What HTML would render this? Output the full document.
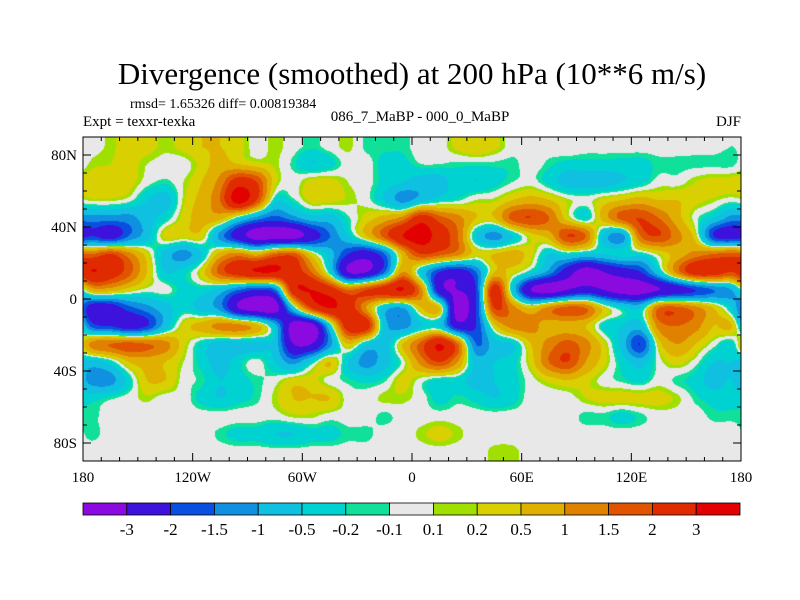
<!DOCTYPE html>
<html><head><meta charset="utf-8"><style>
body{margin:0;background:#fff;width:800px;height:600px;overflow:hidden;position:relative;font-family:"Liberation Serif",serif}
#map{position:absolute;left:83px;top:137px}
svg{position:absolute;left:0;top:0}
</style></head><body>
<canvas id="map" width="658" height="324"></canvas>
<svg id="ov" width="800" height="600">
<text x="412" y="84" font-size="31" text-anchor="middle" font-family="Liberation Serif">Divergence (smoothed) at 200 hPa (10**6 m/s)</text>
<text x="130" y="108" font-size="14" font-family="Liberation Serif">rmsd= 1.65326 diff= 0.00819384</text>
<text x="83" y="126" font-size="15" font-family="Liberation Serif">Expt = texxr-texka</text>
<text x="420" y="121" font-size="15" text-anchor="middle" font-family="Liberation Serif">086_7_MaBP - 000_0_MaBP</text>
<text x="741" y="126" font-size="15" text-anchor="end" font-family="Liberation Serif">DJF</text>
<g id="axes"></g>
<g id="cbar"></g>
</svg>
<script>
const levels=[-3,-2,-1.5,-1,-0.5,-0.2,-0.1,0.1,0.2,0.5,1,1.5,2,3];
const levelLabels=["-3","-2","-1.5","-1","-0.5","-0.2","-0.1","0.1","0.2","0.5","1","1.5","2","3"];
const colors=["#8a0ae0","#3c12dc","#0a50e0","#1090e0","#10c0e0","#00d2d2","#10e09a","#e8e8e8","#a0e000","#d8d000","#e0b000","#e08200","#e05400","#e02a00","#e20000"];
const lons=[-175,-165,-155,-145,-135,-125,-115,-105,-95,-85,-75,-65,-55,-45,-35,-25,-15,-5,5,15,25,35,45,55,65,75,85,95,105,115,125,135,145,155,165,175];
const lats=[85,75,65,55,45,35,25,15,5,-5,-15,-25,-35,-45,-55,-65,-75,-85];
const grid=[
[0,0.15,0.3,0.3,0.15,0.3,0.5,0.5,0.3,0,0.15,0,-0.15,0,0.15,-0.15,-0.15,-0.15, 0,0,0.3,0.5,0.3,0,0,0,0.1,0,0,0,0,0,0,0,0,-0.1],
[0.15,0.2,0.3,0.1,0,0,0.3,0.7,0.5,0.3,0.15,-0.15,-0.5,-0.3,0,0,-0.3,-0.3, -0.1,-0.1,-0.15,-0.15,-0.15,-0.15,0,-0.15,-0.3,-0.3,-0.3,-0.3,-0.3,-0.15,-0.15,-0.15,-0.15,-0.15],
[0.3,0.3,0.3,0,-0.15,0.1,0.5,1.2,2.5,2,0.3,0,0.3,0.3,0.1,0,-0.3,-0.5, -0.7,-0.7,-0.3,-0.5,-0.3,-0.1,0,-0.3,-0.7,-0.7,-0.7,-0.5,-0.3,0,0,0.2,0.3,0.3],
[0.15,0.15,0,-0.5,-0.7,0.15,0.7,1.5,3.5,2,-0.3,-0.15,0.3,0.3,0.15,0,-0.5,-1.2, -0.7,-0.3,-0.15,0.1,0.15,0.5,0.7,0.5,0.15,0,0.3,0.5,0.7,0.5,0.5,0.3,0.15,0],
[-1.2,-1.2,-1.2,-0.7,-0.3,0.3,0.7,0.7,-0.3,-1.2,-1.7,-1.2,-0.7,-0.7,-0.15,0.3,0.7,1.2, 2.5,1.7,1.2,0.5,0.5,1.7,2,1.5,0.3,-0.3,0.7,1.7,2,1.5,0.7,0,-0.5,-1.2],
[-2,-2.5,-1.5,-0.7,0.3,0.3,0.3,-1.2,-2.5,-3.5,-3.5,-3.5,-2.5,-1.5,-0.5,0.5,1.7,3, 3.5,2.5,1.5,-0.5,-1.2,-0.5,0.3,0.7,2,1.5,-0.7,-1.2,1.5,2,1.2,0.3,-2,-2.5],
[1.5,2,1.2,0.3,-0.7,-1.2,-0.5,0.7,1.2,0.7,1.5,1.7,0.3,-0.7,-2,-2.5,-1.5,0.7, 2,1.7,1.2,0.3,0.5,0.7,0.3,-0.5,-0.3,-0.5,-0.5,-0.3,-0.3,0.2,0.7,1.2,1.5,1.7],
[3,2.5,1.7,0.5,-0.5,-0.3,0.3,1.7,2.5,3,3,2.5,1.5,-0.3,-3,-3,-1.5,1, -0.5,-2,-2.5,-1.5,0.5,0.3,-0.3,-1.2,-2.5,-3.5,-3,-2.5,-2,-0.5,1.2,2.5,2.5,2],
[0.7,0.7,0.3,0,0,-0.3,-0.3,-0.7,-1.5,-2,-1.5,2.5,3,2.5,1.5,2,2.5,3, 1.2,-2.5,-3,-2,2.5,-0.5,-3,-3.5,-3,-2.5,-3,-3.5,-3.5,-3,-2.5,-2,-1.5,-1],
[-2.5,-2.5,-1.7,-1.2,-0.7,-0.3,-0.7,-1.2,-3,-3.5,-3.5,-0.5,2,3,2.5,1,-0.7,-1, 0.5,0.5,-3.5,-2,2,1.2,0.5,1.2,1.7,1.5,0.3,-0.3,-0.5,1.5,1.7,1.2,0.5,-0.5],
[-1.7,-2,-2.5,-2,-0.7,0.3,0.7,1.2,1.2,0.7,-0.7,-3.5,-3.5,-0.5,2.5,2.5,-0.7,-1.2, -0.5,-0.5,-2.5,-2,0.3,1.2,1.2,0.7,0.7,0.5,-0.3,-0.5,-0.7,1.2,1.5,1.2,0.5,0.5],
[1.2,1.5,1.7,1.5,1.2,0.3,-0.3,-0.7,-0.7,-0.7,-0.7,-3,-3,-1.2,0.5,-0.5,-0.7,0.5, 1.7,3,1.5,-1.5,-0.7,-0.5,0.5,1.2,1.7,1.2,0.3,-0.7,-2,0.3,1,0.5,0,-0.3],
[-0.7,-0.3,0.5,0.7,0.5,0.1,-0.3,-0.7,-0.3,0,-0.5,-1.2,-0.3,0.5,-0.5,-1.2,-0.7,0, 1.2,2,1,-0.7,-0.5,-0.3,0.3,1.5,2,1,0.3,-0.3,-0.7,0,0.3,0,-0.5,-0.5],
[-1.2,-1.2,-0.3,0.5,0.5,0,-0.15,-0.5,-0.3,-0.15,0,0.3,0.3,0,-0.15,-0.3,-0.15,0.3, 0,-0.3,-0.3,-0.7,-0.5,-0.3,0,0.3,0.5,0.3,0,-0.15,-0.3,0,-0.15,-0.3,-0.7,-0.5],
[-0.3,-0.15,0,0.15,0,0,-0.3,-0.5,-0.3,-0.15,0.15,0.5,0.5,0.5,0,0,0.15,0.15, 0,-0.3,-0.15,-0.3,-0.5,-0.3,0,0,0,0.2,0.3,0.3,0.3,0.3,0.15,-0.15,-0.3,-0.3],
[-0.15,0,0,0,0,0,0,0,0,0,0,0.15,0.15,0,0,0,-0.15,0, 0,0,0,0,0,0,0,0,0,-0.15,-0.15,-0.3,-0.15,0,0,0,-0.15,-0.15],
[-0.15,0,0,0,0,0,0,-0.15,-0.3,-0.3,-0.5,-0.5,-0.3,-0.3,-0.15,-0.15,0,0, 0.15,0.3,0.15,0,0,0,0,0,0,0,0,0,0,0,0,0,0,0],
[0,0,0,0,0,0,0,0,0,0,0,0,0,0,0,0,0,0, 0,0,0,0,0.15,0.15,0,0,0,0,0,0,0,0,0,0,0,0]
];
const W=658,H=324,X0=83,Y0=137;
const xOf=lon=>X0+(lon+180)/360*W;
const yOf=lat=>Y0+(90-lat)/180*H;
function hex(c){return [parseInt(c.substr(1,2),16),parseInt(c.substr(3,2),16),parseInt(c.substr(5,2),16)];}
const rgb=colors.map(hex);
function cr(p0,p1,p2,p3,t){return 0.5*((2*p1)+(-p0+p2)*t+(2*p0-5*p1+4*p2-p3)*t*t+(-p0+3*p1-3*p2+p3)*t*t*t);}
function g(r,c){const n=lons.length,m=lats.length;r=Math.max(0,Math.min(m-1,r));c=((c%n)+n)%n;return grid[r][c];}
function sample(lon,lat){
  const c=(lon-lons[0])/10, r=Math.max(0,Math.min(lats.length-1,(lats[0]-lat)/10));
  const c0=Math.floor(c),r0=Math.floor(r),fc=c-c0,fr=r-r0;
  const rows=[];
  for(let k=-1;k<=2;k++){const rr=r0+k;rows.push(cr(g(rr,c0-1),g(rr,c0),g(rr,c0+1),g(rr,c0+2),fc));}
  return cr(rows[0],rows[1],rows[2],rows[3],fr);
}
const cv=document.getElementById('map'),ctx=cv.getContext('2d'),img=ctx.createImageData(W,H);
for(let py=0;py<H;py++){const lat=90-(py+0.5)/H*180;
 for(let px=0;px<W;px++){const lon=-180+(px+0.5)/W*360;const v=sample(lon,lat);
  let i=0;while(i<levels.length&&v>=levels[i])i++;const k=(py*W+px)*4,c=rgb[i];
  img.data[k]=c[0];img.data[k+1]=c[1];img.data[k+2]=c[2];img.data[k+3]=255;}}
ctx.putImageData(img,0,0);
const NS='http://www.w3.org/2000/svg';
function mk(tag,attrs,parent,txt){const e=document.createElementNS(NS,tag);for(const k in attrs)e.setAttribute(k,attrs[k]);if(txt!==undefined)e.textContent=txt;parent.appendChild(e);return e;}
const ax=document.getElementById('axes');
const frame=mk('rect',{x:X0,y:Y0,width:W,height:H,fill:'none',stroke:'#000','stroke-width':1},ax);


const xTicks=[-180,-120,-60,0,60,120,180],xTickLabels=["180","120W","60W","0","60E","120E","180"];
const yTicks=[80,40,0,-40,-80],yTickLabels=["80N","40N","0","40S","80S"];
for(let lon=-180;lon<=180;lon+=10){const x=xOf(lon),L=(lon%60===0)?8:4;
 mk('line',{x1:x,y1:Y0+H,x2:x,y2:Y0+H-L,stroke:'#000'},ax);mk('line',{x1:x,y1:Y0,x2:x,y2:Y0+L,stroke:'#000'},ax);}
for(let lat=-90;lat<=90;lat+=10){const y=yOf(lat),L=(lat%40===0&&Math.abs(lat)<90)?8:4;
 mk('line',{x1:X0,y1:y,x2:X0+L,y2:y,stroke:'#000'},ax);mk('line',{x1:X0+W,y1:y,x2:X0+W-L,y2:y,stroke:'#000'},ax);}
xTicks.forEach((v,i)=>{const t=mk('text',{x:xOf(v),y:482,'font-size':15,'text-anchor':'middle'},ax,xTickLabels[i]);
 
 });
yTicks.forEach((v,i)=>{const t=mk('text',{x:77,y:yOf(v)+5,'font-size':15,'text-anchor':'end'},ax,yTickLabels[i]);
 
 });
const cb=document.getElementById('cbar');const bx0=83,bw=(740-83)/colors.length;
colors.forEach((c,i)=>{const r=mk('rect',{x:bx0+i*bw,y:503,width:bw,height:12,fill:c,stroke:'#000','stroke-width':0.8},cb);
 
 });
levelLabels.forEach((s,i)=>{const t=mk('text',{x:bx0+(i+1)*bw,y:535,'font-size':17,'text-anchor':'middle'},cb,s);
 
 });
</script>
</body></html>
